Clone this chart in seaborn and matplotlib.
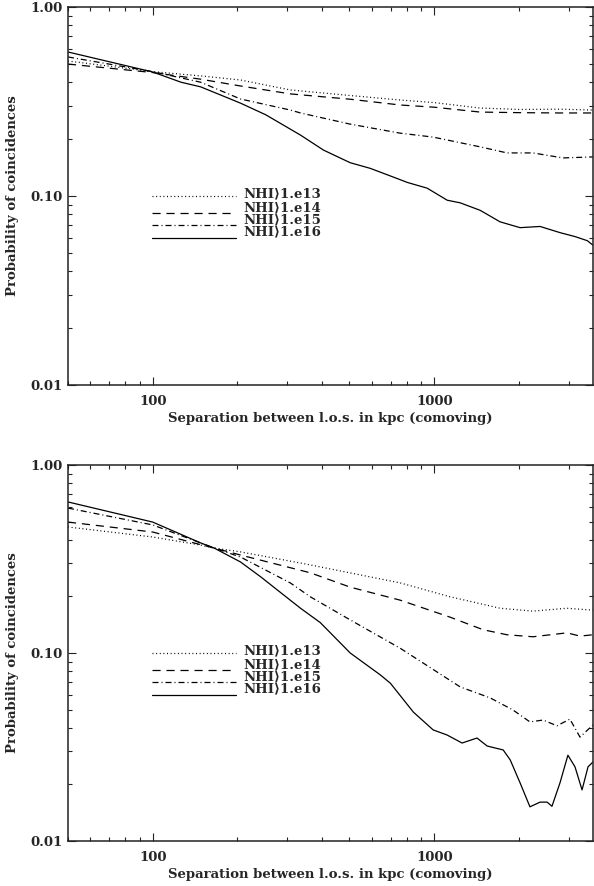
import numpy as np
import pandas as pd
import matplotlib
matplotlib.use("Agg")
import matplotlib.pyplot as plt
import seaborn as sns
from matplotlib.ticker import LogLocator, NullFormatter, FixedLocator, FixedFormatter

# ---------------- data ----------------
labels = ["NHI\u27e91.e13", "NHI\u27e91.e14", "NHI\u27e91.e15", "NHI\u27e91.e16"]

# top panel
top_x13 = [50, 100, 148, 205, 308, 504, 757, 1000, 1456, 2018, 2800, 3660]
top_y13 = [0.518, 0.455, 0.432, 0.411, 0.364, 0.340, 0.322, 0.312, 0.292, 0.287, 0.288, 0.285]
top_x14 = [50, 100, 148, 205, 308, 504, 757, 1000, 1456, 2018, 2800, 3660]
top_y14 = [0.499, 0.450, 0.415, 0.382, 0.347, 0.325, 0.303, 0.295, 0.278, 0.276, 0.275, 0.275]
top_x15 = [50, 100, 148, 205, 308, 335, 503, 757, 990, 1456, 1815, 2244, 2865, 3660]
top_y15 = [0.544, 0.455, 0.400, 0.326, 0.285, 0.275, 0.240, 0.215, 0.205, 0.182, 0.169, 0.169, 0.159, 0.161]
top_x16 = [50, 100, 126, 148, 205, 252, 335, 404, 503, 593, 757, 802, 944, 1112, 1237, 1456,
           1714, 2018, 2377, 2798, 3163, 3500, 3660]
top_y16 = [0.578, 0.453, 0.400, 0.378, 0.310, 0.269, 0.210, 0.175, 0.150, 0.140, 0.122, 0.118,
           0.110, 0.095, 0.092, 0.084, 0.073, 0.068, 0.069, 0.064, 0.061, 0.058, 0.055]

# bottom panel
bot_x13 = [50, 100, 148, 165, 205, 335, 363, 757, 1140, 1714, 2244, 2962, 3660]
bot_y13 = [0.468, 0.414, 0.375, 0.362, 0.345, 0.301, 0.294, 0.236, 0.199, 0.173, 0.167, 0.173, 0.169]
bot_x14 = [50, 100, 140, 165, 205, 363, 503, 757, 1140, 1491, 1815, 2244, 2962, 3295, 3660]
bot_y14 = [0.497, 0.440, 0.385, 0.362, 0.332, 0.267, 0.224, 0.191, 0.155, 0.133, 0.125, 0.122,
           0.128, 0.123, 0.125]
bot_x15 = [50, 100, 148, 165, 205, 308, 363, 503, 757, 1237, 1581, 1907, 2188, 2438, 2729, 3034,
           3295, 3662]
bot_y15 = [0.590, 0.480, 0.385, 0.362, 0.324, 0.236, 0.199, 0.150, 0.106, 0.066, 0.0577, 0.0497,
           0.043, 0.044, 0.041, 0.0445, 0.0357, 0.0414]
bot_x16 = [50, 100, 148, 165, 205, 242, 308, 335, 394, 503, 644, 699, 843, 991, 1112, 1256, 1419,
           1542, 1758, 1862, 2018, 2188, 2377, 2518, 2620, 2798, 2985, 3163, 3351, 3519, 3662]
bot_y16 = [0.636, 0.497, 0.385, 0.362, 0.305, 0.254, 0.191, 0.173, 0.145, 0.100, 0.0764, 0.069,
           0.0485, 0.039, 0.0366, 0.0332, 0.0353, 0.032, 0.0305, 0.027, 0.0204, 0.0152, 0.0161,
           0.0161, 0.0153, 0.0204, 0.0286, 0.0248, 0.0187, 0.0248, 0.0263]

x_ticks = [100, 1000]
x_ticklabels = ["100", "1000"]
y_ticks = [0.01, 0.1, 1.0]
y_ticklabels = ["0.01", "0.10", "1.00"]
xlabel = "Separation between l.o.s. in kpc (comoving)"
ylabel = "Probability of coincidences"


def make_df(xs, ys):
    frames = []
    for lab, x, y in zip(labels, xs, ys):
        frames.append(pd.DataFrame({"sep": x, "prob": y, "series": lab}))
    return pd.concat(frames, ignore_index=True)


df_top = make_df([top_x13, top_x14, top_x15, top_x16], [top_y13, top_y14, top_y15, top_y16])
df_bot = make_df([bot_x13, bot_x14, bot_x15, bot_x16], [bot_y13, bot_y14, bot_y15, bot_y16])

# ---------------- style ----------------
sns.set_style("ticks")
plt.rcParams["font.family"] = ["DejaVu Serif", "DejaVu Sans"]
plt.rcParams["font.weight"] = "bold"
plt.rcParams["axes.labelweight"] = "bold"

LW = 0.9
dash_map = {
    labels[0]: (0.8, 2.1),
    labels[1]: (6.5, 4.7),
    labels[2]: (4.8, 2.4, 0.8, 2.4),
    labels[3]: "",
}

fig = plt.figure(figsize=(5.94, 8.86), dpi=100)
W, H = 594.0, 886.0
ax_top = fig.add_axes([68 / W, 1 - 385 / H, 525 / W, 378 / H])
ax_bot = fig.add_axes([68 / W, 1 - 841 / H, 525 / W, 376 / H])

FS = 9.5

for ax, df in [(ax_top, df_top), (ax_bot, df_bot)]:
    sns.lineplot(data=df, x="sep", y="prob", style="series", style_order=labels,
                 dashes=dash_map, color="black", linewidth=LW, estimator=None,
                 sort=True, legend=False, ax=ax)
    ax.set_xscale("log")
    ax.set_yscale("log")
    ax.set_xlim(50, 3665)
    ax.set_ylim(0.01, 1.0)

    ax.xaxis.set_major_locator(FixedLocator(x_ticks))
    ax.xaxis.set_major_formatter(FixedFormatter(x_ticklabels))
    ax.xaxis.set_minor_locator(LogLocator(base=10, subs=np.arange(2, 10), numticks=20))
    ax.xaxis.set_minor_formatter(NullFormatter())
    ax.yaxis.set_major_locator(FixedLocator(y_ticks))
    ax.yaxis.set_major_formatter(FixedFormatter(y_ticklabels))
    ax.yaxis.set_minor_locator(LogLocator(base=10, subs=np.arange(2, 10), numticks=20))
    ax.yaxis.set_minor_formatter(NullFormatter())

    ax.tick_params(which="both", direction="in", top=True, right=True,
                   color="#222222", width=0.8, labelsize=FS)
    ax.tick_params(which="major", length=5.5)
    ax.tick_params(which="minor", length=3)
    ax.tick_params(axis="x", which="major", pad=7)
    ax.tick_params(axis="y", which="major", pad=4)
    for lab in ax.get_xticklabels() + ax.get_yticklabels():
        lab.set_fontweight("bold")

    for sp in ax.spines.values():
        sp.set_linewidth(1.1)
        sp.set_color("#222222")

    ax.set_xlabel(xlabel, fontsize=FS, fontweight="bold", labelpad=3)
    ax.set_ylabel(ylabel, fontsize=FS, fontweight="bold", labelpad=8)

    # legend drawn in IDL style
    ax_h = ax.get_position().height * H
    x0, x1, xt = (152 - 68) / 525, (236 - 68) / 525, (243 - 68) / 525
    line_off = [0, 17, 29, 42]
    text_off = [-2, 12, 24, 36]
    for lab, lo, to in zip(labels, line_off, text_off):
        yl = 0.5 - lo / ax_h
        yt = 0.5 - to / ax_h
        kw = dict(color="black", linewidth=LW, transform=ax.transAxes)
        if dash_map[lab] == "":
            ax.plot([x0, x1], [yl, yl], **kw)
        else:
            ax.plot([x0, x1], [yl, yl], dashes=dash_map[lab], **kw)
        ax.text(xt, yt, lab, transform=ax.transAxes, fontsize=FS, fontweight="bold",
                va="center", ha="left")

fig.savefig("out.png", dpi=100)
